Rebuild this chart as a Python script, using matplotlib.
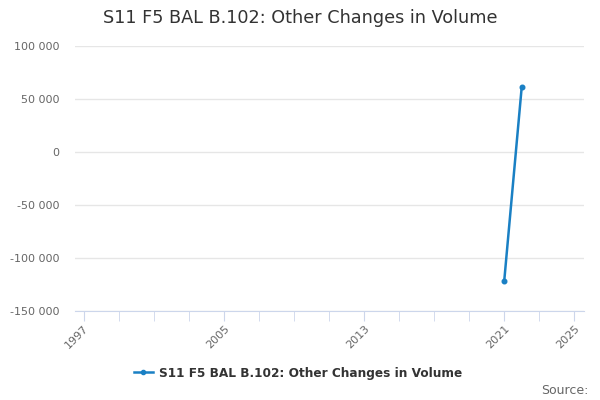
import matplotlib.pyplot as plt
from matplotlib.lines import Line2D

# Data
years = [2021, 2022]
values = [-122000, 61300]
series_name = "S11 F5 BAL B.102: Other Changes in Volume"
title = "S11 F5 BAL B.102: Other Changes in Volume"
year_labels = [1997, 2005, 2013, 2021, 2025]
y_ticks = [-150000, -100000, -50000, 0, 50000, 100000]

line_color = "#1a80c4"
text_color = "#666666"

fig = plt.figure(figsize=(6, 4), dpi=100)
ax = fig.add_axes([0.125, 0.2225, 0.8483, 0.6625])

ax.plot(years, values, color=line_color, lw=1.8, marker="o", ms=3.3, zorder=3)

ax.set_xlim(1996.503, 2025.554)
ax.set_ylim(-150000, 100000)

ax.set_yticks(y_ticks)
ax.set_yticklabels([f"{v:,}".replace(",", " ") for v in y_ticks])
ax.yaxis.grid(True, color="#e6e6e6", lw=1)
ax.set_axisbelow(True)
ax.tick_params(axis="y", length=0, labelsize=8, labelcolor=text_color, pad=11.5)

ax.set_xticks(range(1997, 2026, 2), minor=True)
ax.set_xticks(year_labels)
ax.set_xticklabels([str(y) for y in year_labels])
ax.tick_params(axis="x", which="both", length=7.2, color="#ccd6eb",
               labelsize=8, labelcolor=text_color, pad=1.5)
for lab in ax.get_xticklabels():
    lab.set_rotation(45)
    lab.set_ha("right")
    lab.set_rotation_mode("anchor")

for side in ["top", "right", "left"]:
    ax.spines[side].set_visible(False)
ax.spines["bottom"].set_color("#ccd6eb")

fig.text(0.5, 0.955, title, ha="center", va="center", fontsize=12.7,
         color="#333333")

handle = Line2D([], [], color=line_color, lw=1.8, marker="o", ms=3)
leg = fig.legend([handle], [series_name], loc="center", bbox_to_anchor=(0.497, 0.066),
                 frameon=False, handlelength=1.32, handletextpad=0.46)
for t in leg.get_texts():
    t.set_fontweight("bold")
    t.set_fontsize(8.7)
    t.set_color("#333333")

fig.text(0.981, 0.025, "Source:", ha="right", va="center", fontsize=9,
         color="#666666")

fig.savefig("out.png", dpi=100)
